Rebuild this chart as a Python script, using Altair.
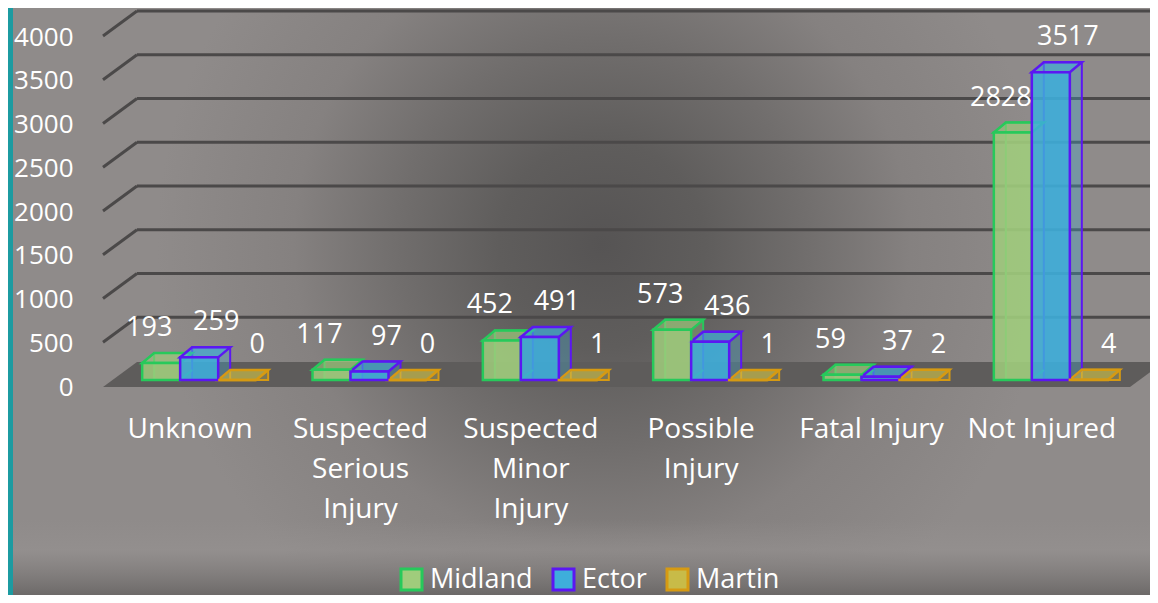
import json
import altair as alt
import pandas as pd

# ---------------- data ----------------
categories = ["Unknown", "Suspected Serious Injury", "Suspected Minor Injury",
              "Possible Injury", "Fatal Injury", "Not Injured"]
category_lines = [["Unknown"], ["Suspected", "Serious", "Injury"],
                  ["Suspected", "Minor", "Injury"], ["Possible", "Injury"],
                  ["Fatal Injury"], ["Not Injured"]]
series_names = ["Midland", "Ector", "Martin"]
midland_values = [193, 117, 452, 573, 59, 2828]
ector_values = [259, 97, 491, 436, 37, 3517]
martin_values = [0, 0, 1, 1, 2, 4]
y_ticks = [0, 500, 1000, 1500, 2000, 2500, 3000, 3500, 4000]

# ---------------- style ----------------
fill_colors = ["#a0cc7c", "#3eaedb", "#c8bb48"]
stroke_colors = ["#27c95b", "#5b17f2", "#d69a12"]
label_dx = [-12, 17, 20]
FONT = "Open Sans"
GRID = "#4b4949"
W, H = 1022, 350
PAD = {"left": 97, "top": 22, "right": 23, "bottom": 215}
BAR_W = 38
DEPTH_X, DEPTH_Y = 12, -10
GROUP_SHIFT = 9
TOP_PATH = "M-19,0L19,0L31,-10L-7,-10Z"
EDGE_PATH = "M19,0L31,-10"
FLOOR_PATH = "M-2,7L1025,7L1059,-18L32,-18Z"

values_by_series = {"Midland": midland_values, "Ector": ector_values, "Martin": martin_values}
df = pd.DataFrame([
    {"category": c, "series": s, "value": v}
    for s in series_names for c, v in zip(categories, values_by_series[s])
])

y_scale = alt.Scale(domain=[0, 4000], nice=False)
x_scale = alt.Scale(domain=categories, paddingInner=0.33, paddingOuter=0.165)
fill_scale = alt.Scale(domain=series_names, range=fill_colors)
stroke_scale = alt.Scale(domain=series_names, range=stroke_colors)

expr = "datum.label"
for c, lines in reversed(list(zip(categories, category_lines))):
    expr = f"datum.value == {json.dumps(c)} ? {json.dumps(lines)} : ({expr})"

x_axis = alt.Axis(title=None, labelExpr=expr, labelAngle=0, labelFontSize=28,
                  labelColor="white", labelFont=FONT, labelPadding=35,
                  labelLineHeight=40, labelLimit=400, domain=False, ticks=False,
                  grid=False, zindex=2)
y_axis = alt.Axis(title=None, values=y_ticks, format="d", grid=False, domain=False,
                  ticks=False, labelPadding=32, labelOffset=7, labelFontSize=26,
                  labelColor="white", labelFont=FONT, zindex=2)

# the same axis definitions on every layer, so that they merge into one axis each
X_ENC = alt.X("category:N", scale=x_scale, axis=x_axis)
Y_ENC = alt.Y("value:Q", scale=y_scale, axis=y_axis, stack=None)
Y_TICK = alt.Y("tick:Q", scale=y_scale, axis=y_axis)

legend = alt.Legend(title=None, orient="none", legendX=293, legendY=536,
                    direction="horizontal", symbolType="square", symbolSize=441,
                    symbolStrokeWidth=3, labelFontSize=27, labelColor="white",
                    labelFont=FONT, columnPadding=14, labelOffset=5, symbolOpacity=1)
FILL = alt.Fill("series:N", scale=fill_scale, legend=legend)
STROKE = alt.Stroke("series:N", scale=stroke_scale, legend=legend)

one = pd.DataFrame({"k": [0]})
radial = {"gradient": "radial", "x1": 0.52, "y1": 0.45, "r1": 0,
          "x2": 0.52, "y2": 0.45, "r2": 0.6,
          "stops": [{"offset": 0, "color": "#565454"},
                    {"offset": 0.15, "color": "#5f5d5c"},
                    {"offset": 0.3, "color": "#716e6d"},
                    {"offset": 0.45, "color": "#858180"},
                    {"offset": 0.65, "color": "#8f8b8a"},
                    {"offset": 1, "color": "#8f8b8a"}]}
bottom_grad = {"gradient": "linear", "x1": 0, "y1": 0, "x2": 0, "y2": 1,
               "stops": [{"offset": 0, "color": "rgba(150,146,145,0)"},
                         {"offset": 0.4, "color": "rgba(150,146,145,0.55)"},
                         {"offset": 1, "color": "rgba(100,97,96,0.8)"}]}

bg = alt.Chart(one).mark_rect(fill=radial).encode(
    x=alt.value(-PAD["left"]), x2=alt.value(W + PAD["right"]),
    y=alt.value(-PAD["top"]), y2=alt.value(H + PAD["bottom"]))
bottom = alt.Chart(one).mark_rect(fill=bottom_grad).encode(
    x=alt.value(-PAD["left"]), x2=alt.value(W + PAD["right"]),
    y=alt.value(H + 140), y2=alt.value(H + PAD["bottom"]))
teal = alt.Chart(one).mark_rect(fill="#1c9ba1").encode(
    x=alt.value(-PAD["left"]), x2=alt.value(-PAD["left"] + 5),
    y=alt.value(-PAD["top"]), y2=alt.value(H + PAD["bottom"]))
floor = alt.Chart(one).mark_point(shape=FLOOR_PATH, size=4, filled=True,
                                  color="#5e5c5b", opacity=1).encode(
    x=alt.value(0), y=alt.value(H))

grid_df = pd.DataFrame({"tick": y_ticks[1:]})
grid_slant = alt.Chart(grid_df).mark_rule(color=GRID, strokeWidth=3, yOffset=6,
                                          y2Offset=-19).encode(
    x=alt.value(-2), x2=alt.value(32), y=Y_TICK, y2=alt.Y2("tick:Q"))
grid_flat = alt.Chart(grid_df).mark_rule(color=GRID, strokeWidth=3, yOffset=-19).encode(
    x=alt.value(32), x2=alt.value(W + PAD["right"]), y=Y_TICK)

backs, edges, tops, fronts, labels = [], [], [], [], []
for i, s in enumerate(series_names):
    sub = df[df["series"] == s]
    c = GROUP_SHIFT + (i - 1) * BAR_W
    base = alt.Chart(sub)
    fc, sc = fill_colors[i], stroke_colors[i]
    backs.append(base.mark_bar(width=BAR_W, xOffset=c + DEPTH_X, yOffset=DEPTH_Y,
                               y2Offset=DEPTH_Y, strokeWidth=2, fill=fc, stroke=sc,
                               fillOpacity=0.3, strokeJoin="miter").encode(
        x=X_ENC, y=Y_ENC))
    edges.append(base.mark_point(shape=EDGE_PATH, size=4, xOffset=c, strokeWidth=2,
                                 stroke=sc, opacity=1, filled=False).encode(
        x=X_ENC, y=alt.value(H)))
    tops.append(base.mark_point(shape=TOP_PATH, size=4, xOffset=c, strokeWidth=2.5,
                                fill=fc, stroke=sc, fillOpacity=0.55, opacity=1,
                                filled=True, strokeJoin="miter").encode(
        x=X_ENC, y=Y_ENC))
    fronts.append(base.mark_bar(width=BAR_W, xOffset=c, strokeWidth=2.5, fillOpacity=0.85,
                                strokeJoin="miter").encode(
        x=X_ENC, y=Y_ENC, fill=FILL, stroke=STROKE))
    labels.append(base.mark_text(xOffset=c, dx=label_dx[i], dy=-35, fontSize=27, font=FONT,
                                 color="white", baseline="middle", align="center").encode(
        x=X_ENC, y=Y_ENC, text=alt.Text("value:Q")))

chart = alt.layer(bg, bottom, teal, floor, grid_slant, grid_flat,
                  *backs, *edges, *tops, *fronts, *labels).properties(
    width=W, height=H, padding=PAD,
    autosize=alt.AutoSizeParams(type="none"),
    background="#858180",
).configure_view(stroke=None)

chart.save("out.html", embed_options={"renderer": "svg", "actions": False})
